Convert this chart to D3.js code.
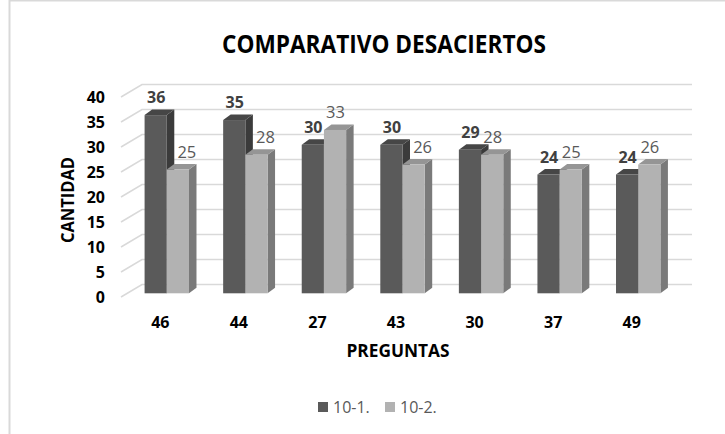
<!DOCTYPE html>
<html>
<head>
<meta charset="utf-8">
<script src="https://cdn.jsdelivr.net/npm/d3@7"></script>
<style>
  html, body { margin: 0; padding: 0; background: #fff; }
  svg { display: block; font-family: "Open Sans", "DejaVu Sans", sans-serif; }
</style>
</head>
<body>
<svg id="chart" width="725" height="434"></svg>
<script>
// ---- data ----
const categories = ["46", "44", "27", "43", "30", "37", "49"];
const series1 = [36, 35, 30, 30, 29, 24, 24];   // 10-1.
const series2 = [25, 28, 33, 26, 28, 25, 26];   // 10-2.
const seriesNames = ["10-1.", "10-2."];
const yTicks = [0, 5, 10, 15, 20, 25, 30, 35, 40];
const title = "COMPARATIVO DESACIERTOS";
const xTitle = "PREGUNTAS";
const yTitle = "CANTIDAD";

const svg = d3.select("#chart");

// frame
svg.append("rect").attr("x", 9.5).attr("y", 0.5).attr("width", 900).attr("height", 600)
  .attr("fill", "none").attr("stroke", "#d9d9d9").attr("stroke-width", 2);

// geometry (oblique 3D)
const wallDX = 21, wallDY = -12.5;
const barOffX = 6.5;
const barDX = 7.5, barDY = -5.5;

const x = d3.scaleBand().domain(categories).range([121, 671]);
const yFront = d3.scaleLinear().domain([0, 40]).range([297, 97]);
const yBar = d3.scaleLinear().domain([0, 40]).range([293.3, 95.3]);
const barW = 22.2;

// gridlines
const grid = svg.append("g");
yTicks.forEach(t => {
  const yf = yFront(t);
  grid.append("path")
    .attr("d", `M${x.range()[0]},${yf} L${x.range()[0] + wallDX},${yf + wallDY} L${x.range()[1] + wallDX},${yf + wallDY}`)
    .attr("fill", "none").attr("stroke", "#d9d9d9").attr("stroke-width", 1.5);
});

// y tick labels
svg.append("g").selectAll("text").data(yTicks).join("text")
  .attr("x", 105).attr("y", d => yFront(d) + 6)
  .attr("text-anchor", "end").attr("font-size", 16).attr("font-weight", "bold")
  .attr("fill", "#000").text(d => d);

// bars
const styles = [
  { front: "#5a5a5a", top: "#464646", side: "#3b3b3b" },
  { front: "#b2b2b2", top: "#959595", side: "#7a7a7a" }
];
function drawBar(g, x0, v, st) {
  const y0 = yBar(0), y1 = yBar(v);
  g.append("path").attr("d",
    `M${x0 + barW},${y0} L${x0 + barW + barDX},${y0 + barDY} L${x0 + barW + barDX},${y1 + barDY} L${x0 + barW},${y1} Z`)
    .attr("fill", st.side);
  g.append("path").attr("d",
    `M${x0},${y1} L${x0 + barDX},${y1 + barDY} L${x0 + barW + barDX},${y1 + barDY} L${x0 + barW},${y1} Z`)
    .attr("fill", st.top);
  g.append("rect").attr("x", x0).attr("y", y1).attr("width", barW).attr("height", y0 - y1)
    .attr("fill", st.front);
}
const bars = svg.append("g");
categories.forEach((c, i) => {
  const cx = x(c) + x.bandwidth() / 2 + barOffX;
  const g = bars.append("g");
  drawBar(g, cx - barW, series1[i], styles[0]);
  drawBar(g, cx, series2[i], styles[1]);
});

// data labels
const labels = svg.append("g");
categories.forEach((c, i) => {
  const cx = x(c) + x.bandwidth() / 2 + barOffX;
  labels.append("text")
    .attr("x", cx - barW / 2 + 0.5).attr("y", yBar(series1[i]) - 18 + 6)
    .attr("text-anchor", "middle").attr("font-size", 16).attr("font-weight", "bold")
    .attr("fill", "#404040").text(series1[i]);
  const nudge = (series1[i] - series2[i] >= 3) ? 9 : 0.5;
  labels.append("text")
    .attr("x", cx + barW / 2 + nudge).attr("y", yBar(series2[i]) - 18 + 6)
    .attr("text-anchor", "middle").attr("font-size", 16.5)
    .attr("fill", "#595959").text(series2[i]);
});

// x tick labels
svg.append("g").selectAll("text").data(categories).join("text")
  .attr("x", d => x(d) + x.bandwidth() / 2).attr("y", 327.5)
  .attr("text-anchor", "middle").attr("font-size", 16).attr("font-weight", "bold")
  .attr("fill", "#000").text(d => d);

// title
svg.append("text").attr("x", 384).attr("y", 53)
  .attr("text-anchor", "middle").attr("font-size", 25).attr("font-weight", "bold")
  .attr("textLength", 324).attr("lengthAdjust", "spacingAndGlyphs")
  .attr("fill", "#000").text(title);

// axis titles
svg.append("text").attr("x", 398).attr("y", 357)
  .attr("text-anchor", "middle").attr("font-size", 17).attr("font-weight", "bold")
  .attr("textLength", 103).attr("lengthAdjust", "spacingAndGlyphs")
  .attr("fill", "#000").text(xTitle);
svg.append("text").attr("transform", "translate(74,200) rotate(-90)")
  .attr("text-anchor", "middle").attr("font-size", 17).attr("font-weight", "bold")
  .attr("textLength", 86).attr("lengthAdjust", "spacingAndGlyphs")
  .attr("fill", "#000").text(yTitle);

// legend
const legend = svg.append("g");
const legX = [318, 385];
seriesNames.forEach((n, i) => {
  legend.append("rect").attr("x", legX[i]).attr("y", 402).attr("width", 10).attr("height", 10)
    .attr("fill", styles[i].front);
  legend.append("text").attr("x", legX[i] + 15).attr("y", 413)
    .attr("font-size", 16).attr("fill", "#595959").text(n);
});
</script>
</body>
</html>
